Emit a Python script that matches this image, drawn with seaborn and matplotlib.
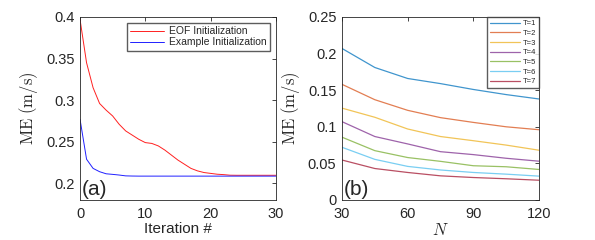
import numpy as np
import pandas as pd
import seaborn as sns
import matplotlib.pyplot as plt

# panel (a): error vs iteration
iters = list(range(31))
eof_me = [0.397, 0.345, 0.315, 0.296, 0.288, 0.281, 0.271, 0.263, 0.258, 0.253,
          0.249, 0.248, 0.245, 0.240, 0.234, 0.228, 0.223, 0.218, 0.215, 0.213,
          0.212, 0.211, 0.2105, 0.2098, 0.2097, 0.2097, 0.2097, 0.2097, 0.2097, 0.2097, 0.2097]
example_me = [0.277, 0.229, 0.218, 0.214, 0.2115, 0.2108, 0.2100, 0.2090, 0.2088, 0.2087,
              0.2087, 0.2087, 0.2087, 0.2087, 0.2087, 0.2087, 0.2087, 0.2087, 0.2087, 0.2087,
              0.2087, 0.2087, 0.2087, 0.2087, 0.2087, 0.2087, 0.2087, 0.2087, 0.2087, 0.2087, 0.2087]

# panel (b): error vs N for several T
n_vals = [30, 45, 60, 75, 90, 105, 120]
t_labels = ["T=1", "T=2", "T=3", "T=4", "T=5", "T=6", "T=7"]
me_t1 = [0.207, 0.181, 0.166, 0.159, 0.151, 0.144, 0.138]
me_t2 = [0.158, 0.137, 0.1225, 0.1125, 0.106, 0.100, 0.096]
me_t3 = [0.1255, 0.113, 0.097, 0.0867, 0.081, 0.075, 0.068]
me_t4 = [0.107, 0.0867, 0.0766, 0.066, 0.062, 0.057, 0.053]
me_t5 = [0.0858, 0.0674, 0.058, 0.0528, 0.0468, 0.0454, 0.0417]
me_t6 = [0.072, 0.0555, 0.0459, 0.041, 0.0376, 0.0353, 0.0326]
me_t7 = [0.0546, 0.043, 0.0376, 0.033, 0.0307, 0.029, 0.027]
t_colors = ["#0072BD", "#D95319", "#EDB120", "#7E2F8E", "#77AC30", "#4DBEEE", "#A2142F"]

sns.set_style("white")
plt.rcParams["mathtext.fontset"] = "cm"
plt.rcParams["font.family"] = ["Liberation Sans", "DejaVu Sans"]
plt.rcParams["xtick.direction"] = "in"
plt.rcParams["ytick.direction"] = "in"

df_a = pd.DataFrame({
    "iter": iters * 2,
    "me": eof_me + example_me,
    "init": ["EOF Initialization"] * 31 + ["Example Initialization"] * 31,
})
rows = []
for lab, vals in zip(t_labels, [me_t1, me_t2, me_t3, me_t4, me_t5, me_t6, me_t7]):
    for n, v in zip(n_vals, vals):
        rows.append((n, v, lab))
df_b = pd.DataFrame(rows, columns=["N", "me", "T"])

fig = plt.figure(figsize=(5.95, 2.4), dpi=100)
ax1 = fig.add_axes([0.1345, 0.1667, 0.329, 0.7625])
ax2 = fig.add_axes([0.5748, 0.1667, 0.331, 0.7625])

sns.lineplot(data=df_a, x="iter", y="me", hue="init",
             palette=["#ff2020", "#2020ff"], linewidth=0.7, ax=ax1)
ax1.set_xlim(0, 30)
ax1.set_ylim(0.18, 0.4)
ax1.set_xticks([0, 10, 20, 30])
ax1.set_yticks([0.2, 0.25, 0.3, 0.35, 0.4])
ax1.set_yticklabels(["0.2", "0.25", "0.3", "0.35", "0.4"])
ax1.set_xlabel("Iteration #", fontsize=11, labelpad=1)
ax1.set_ylabel(r"$\mathrm{ME\ (m/s)}$", fontsize=12)
ax1.text(0.01, 0.03, "(a)", transform=ax1.transAxes, fontsize=15)
ax1.legend(loc="upper right", fontsize=7.5, frameon=True, fancybox=False,
           edgecolor="#333333", borderpad=0.3, handlelength=3.2,
           labelspacing=0.1, handletextpad=0.5, borderaxespad=0.6)

sns.lineplot(data=df_b, x="N", y="me", hue="T", palette=t_colors,
             linewidth=0.9, alpha=0.75, ax=ax2)
ax2.set_xlim(30, 120)
ax2.set_ylim(0, 0.25)
ax2.set_xticks([30, 60, 90, 120])
ax2.set_yticks([0, 0.05, 0.1, 0.15, 0.2, 0.25])
ax2.set_yticklabels(["0", "0.05", "0.1", "0.15", "0.2", "0.25"])
ax2.set_xlabel(r"$N$", fontsize=12, labelpad=1)
ax2.set_ylabel(r"$\mathrm{ME\ (m/s)}$", fontsize=12)
ax2.text(0.01, 0.03, "(b)", transform=ax2.transAxes, fontsize=15)
leg = ax2.legend(loc="upper right", fontsize=5.5, frameon=True, fancybox=False,
                 edgecolor="#333333", borderpad=0.4, handlelength=4,
                 labelspacing=0.3, handletextpad=0.3, borderaxespad=0.0)

for ax in (ax1, ax2):
    ax.tick_params(axis="both", which="both", labelsize=10.5, length=3,
                   width=0.6, top=True, right=True, colors="#262626")
    ax.tick_params(axis="x", pad=5)
    ax.tick_params(axis="y", pad=4)
    for s in ax.spines.values():
        s.set_color("#262626")
        s.set_linewidth(0.6)

fig.savefig("out.png", dpi=100)
